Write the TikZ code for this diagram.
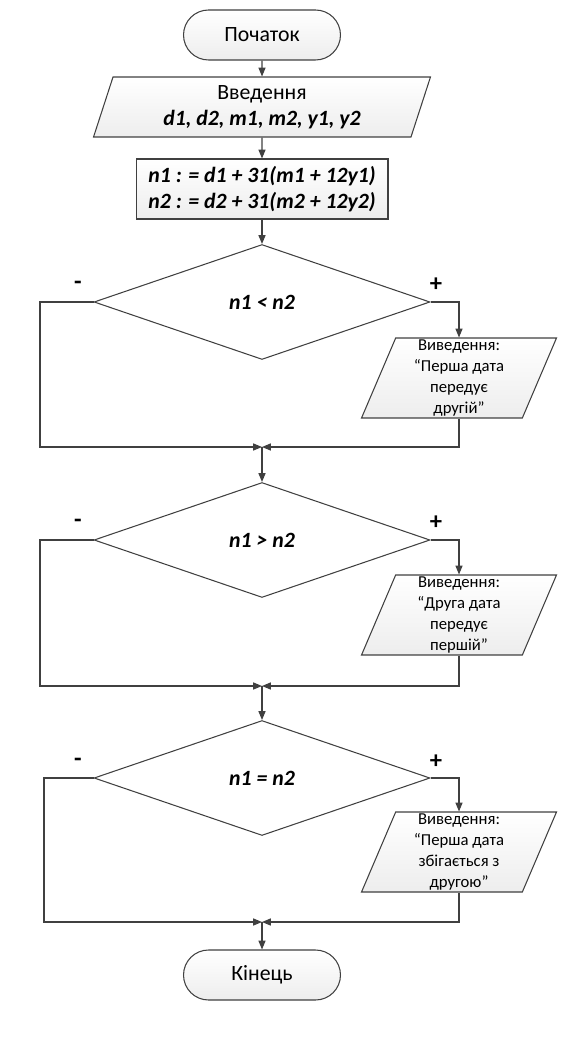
\documentclass[tikz,border=0pt]{standalone}
\usepackage{fontspec}
\setmainfont{Carlito}
\usepackage{tikz}
\usetikzlibrary{arrows.meta, shapes.geometric}
\definecolor{linegray}{rgb}{0.25,0.25,0.25}
\definecolor{fillgray}{rgb}{0.93,0.93,0.93}

\begin{document}
\begin{tikzpicture}[
  x=0.02cm, y=-0.02cm,
  line width=0.6pt,
  term/.style={
    draw=linegray, rounded corners=0.5cm, minimum width=3.14cm, minimum height=1cm,
    top color=white, bottom color=fillgray, font=\fontsize{12.4}{15}\selectfont
  },
  inbox/.style={
    draw=linegray, trapezium, trapezium left angle=66, trapezium right angle=114,
    trapezium stretches body, inner xsep=0pt, inner ysep=0pt, align=center,
    top color=white, bottom color=fillgray
  },
  proc/.style={
    draw=linegray, minimum width=5.04cm, minimum height=1.2cm, align=center,
    top color=white, bottom color=fillgray,
    font=\fontsize{12.4}{15}\selectfont\bfseries\itshape
  },
  cond/.style={
    draw=linegray, diamond, inner sep=0pt, minimum width=6.72cm, minimum height=2.3cm,
    font=\fontsize{12.4}{15}\selectfont\bfseries\itshape
  },
  outtxt/.style={font=\fontsize{9.5}{12}\selectfont, minimum width=3.9cm, minimum height=1.6cm},
  sign/.style={font=\fontsize{14}{16}\selectfont\bfseries},
  arr/.style={-{Triangle[length=5pt, width=4pt]}, linegray},
]
\useasboundingbox (0,0) rectangle (586,1050);

%% ---- Start, input, computation ----
\node[term] (start) at (262,35) {Початок};
\node[inbox, minimum width=6.74cm, minimum height=1.2cm,
  font=\fontsize{12.4}{15}\selectfont] (input) at (262,107)
  {Введення\\\textbf{\textit{d1, d2, m1, m2, y1, y2}}};
\node[proc] (calc) at (262,189) {n1 : = d1 + 31(m1 + 12y1)\\n2 : = d2 + 31(m2 + 12y2)};

\draw[arr] (start) -- (input);
\draw[arr] (input) -- (calc);

%% ---- Decisions ----
\node[cond] (d1) at (262,302) {n1 < n2};
\node[cond] (d2) at (262,540) {n1 > n2};
\node[cond] (d3) at (262,778) {n1 = n2};

\foreach \y in {285, 523, 762}{
  \node[sign] at (78,\y) {-};
  \node[sign] at (436,\y) {+};
}

%% ---- Outputs ----
\node[inbox, outtxt] (o1) at (459,378)
  {Виведення:\\“Перша дата\\передує\\другій”};
\node[inbox, outtxt] (o2) at (459,615)
  {Виведення:\\“Друга дата\\передує\\першій”};
\node[inbox, outtxt] (o3) at (459,852)
  {Виведення:\\“Перша дата\\збігається з\\другою”};

%% ---- Junctions ----
\coordinate (j1) at (262,447);
\coordinate (j2) at (262,686);
\coordinate (j3) at (262,922);

\node[term] (stop) at (262,975) {Кінець};

%% ---- Connectors ----
\draw[arr] (calc) -- (d1.north);
\draw[arr] (d1.east) -| (o1.north);
\draw[arr] (d1.west) -- (40,302) |- (j1);
\draw[arr] (o1.south) |- (j1);
\draw[arr] (j1) -- (d2.north);

\draw[arr] (d2.east) -| (o2.north);
\draw[arr] (d2.west) -- (40,540) |- (j2);
\draw[arr] (o2.south) |- (j2);
\draw[arr] (j2) -- (d3.north);

\draw[arr] (d3.east) -| (o3.north);
\draw[arr] (d3.west) -- (44,778) |- (j3);
\draw[arr] (o3.south) |- (j3);
\draw[arr] (j3) -- (stop);

\end{tikzpicture}
\end{document}
